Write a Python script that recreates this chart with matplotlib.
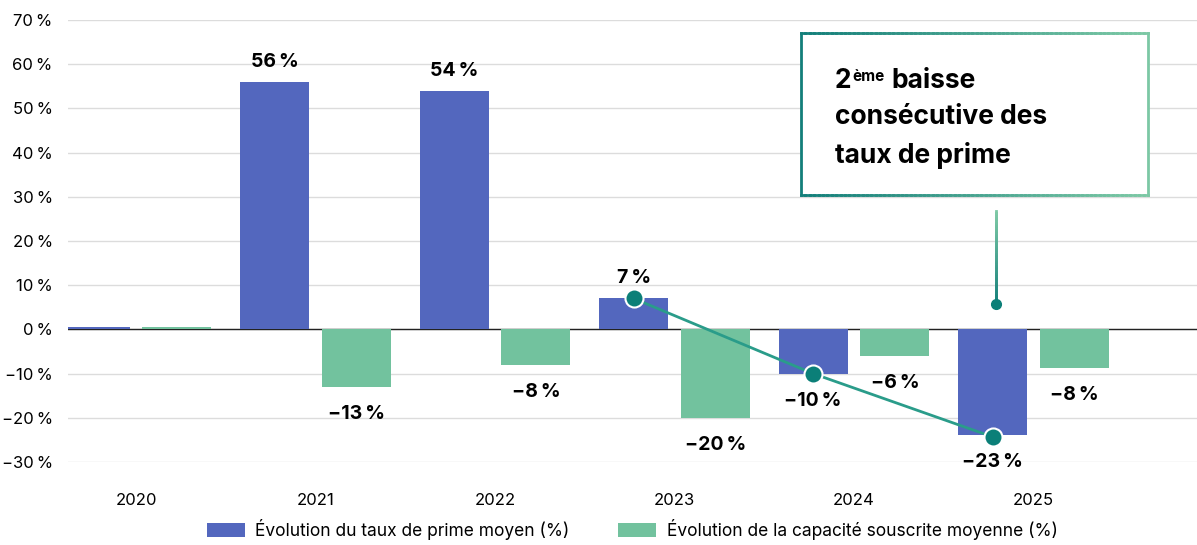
import matplotlib.pyplot as plt
import numpy as np
from matplotlib.collections import LineCollection
from matplotlib.colors import LinearSegmentedColormap

plt.rcParams['font.family'] = ['Inter', 'DejaVu Sans']

# data
years = ["2020", "2021", "2022", "2023", "2024", "2025"]
taux_prime = [0.5, 56, 54, 7, -10, -23.8]
capacite = [0.5, -13, -8, -20, -6, -8.7]
labels_prime = ["", "56\u2009%", "54\u2009%", "7\u2009%", "\u221210\u2009%", "\u221223\u2009%"]
labels_cap = ["", "\u221213\u2009%", "\u22128\u2009%", "\u221220\u2009%", "\u22126\u2009%", "\u22128\u2009%"]
trend_years = [3, 4, 5]          # indices of the years joined by the trend line
yticks = [-30, -20, -10, 0, 10, 20, 30, 40, 50, 60, 70]

BLUE = "#5367BE"
GREEN = "#72C29E"
TEAL = "#0B7F78"
LINE = "#2A9C8A"

fig = plt.figure(figsize=(11.97, 5.45), dpi=100)
ax = fig.add_axes([68 / 1197, 1 - 462 / 545, 1 - 68 / 1197, 442 / 545])

x = np.arange(len(years))
off = 0.228
w = 0.384
ax.bar(x - off, taux_prime, w, color=BLUE, zorder=2, label="Évolution du taux de prime moyen (%)")
ax.bar(x + off, capacite, w, color=GREEN, zorder=2, label="Évolution de la capacité souscrite moyenne (%)")

# data labels
for xi, v, lab in zip(x - off, taux_prime, labels_prime):
    if not lab:
        continue
    if v >= 0:
        ax.annotate(lab, (xi, v), xytext=(0, 8), textcoords="offset points",
                    ha="center", va="bottom", fontsize=14, fontweight="bold")
    else:
        ax.annotate(lab, (xi, v), xytext=(0, -13), textcoords="offset points",
                    ha="center", va="top", fontsize=14, fontweight="bold")
for xi, v, lab in zip(x + off, capacite, labels_cap):
    if not lab:
        continue
    ax.annotate(lab, (xi, v), xytext=(0, -13), textcoords="offset points",
                ha="center", va="top", fontsize=14, fontweight="bold")

# trend line on the premium rate
tx = [x[i] - off for i in trend_years]
ty = [taux_prime[i] for i in trend_years]
ty[-1] = -24.3
ax.plot(tx, ty, color=LINE, lw=2, zorder=4)
ax.plot(tx, ty, "o", ms=13, mfc=TEAL, mec="white", mew=1.5, zorder=5)


def gradient_line(xs, ys, z):
    pts = np.array([xs, ys]).T.reshape(-1, 1, 2)
    segs = np.concatenate([pts[:-1], pts[1:]], axis=1)
    lc = LineCollection(segs, cmap=cmap, lw=2, zorder=z, capstyle="projecting")
    lc.set_array(np.linspace(0, 1, len(segs)))
    ax.add_collection(lc)


# callout box with gradient border
cmap = LinearSegmentedColormap.from_list("g", ["#137F7A", "#7CC8A5"])
bx0, bx1, by0, by1 = 3.705, 5.638, 30.3, 67.0
xs = np.linspace(bx0, bx1, 80)
ax.fill_between([bx0, bx1], by0, by1, color="white", zorder=5.5)
for yy in (by0, by1):
    gradient_line(xs, np.full_like(xs, yy), 6)
ax.plot([bx0, bx0], [by0, by1], color=cmap(0.0), lw=2, zorder=6)
ax.plot([bx1, bx1], [by0, by1], color=cmap(1.0), lw=2, zorder=6)

tx0 = 3.894
t1 = ax.text(tx0, 56.3, "2", fontsize=19, fontweight="bold", va="center", ha="left", zorder=7)
t2 = ax.annotate("ème", xy=(1, 1), xycoords=t1, xytext=(0.5, -1), textcoords="offset points",
                 fontsize=11, fontweight="bold", va="top", ha="left", zorder=7)
ax.annotate("baisse", xy=(1, 0), xycoords=(t2, t1), xytext=(5, 0), textcoords="offset points",
            fontsize=19, fontweight="bold", va="bottom", ha="left", zorder=7)
ax.text(tx0, 48.0, "consécutive des", fontsize=19, fontweight="bold", va="center", ha="left", zorder=7)
ax.text(tx0, 39.4, "taux de prime", fontsize=19, fontweight="bold", va="center", ha="left", zorder=7)

# pointer from box down to 2025
px = x[5] - off + 0.02
vy = np.linspace(5.7, 26.9, 40)
gradient_line(np.full_like(vy, px), vy, 4)
ax.plot([px], [5.7], "o", ms=7, color=TEAL, zorder=5)

# axes styling
ax.set_xlim(-0.379, 5.911)
ax.set_ylim(-30, 70)
ax.set_yticks(yticks)
ax.set_yticklabels([("\u2212" if t < 0 else "") + f"{abs(t)}\u2009%" for t in yticks], fontsize=12)
ax.set_xticks(x)
ax.set_xticklabels(years, fontsize=12)
ax.tick_params(axis="y", length=0, pad=11)
ax.tick_params(axis="x", length=0, pad=22)
ax.grid(axis="y", color="#dcdcdc", lw=1, zorder=0)
ax.axhline(0, color="#222222", lw=1, zorder=1.5)
for s in ax.spines.values():
    s.set_visible(False)
ax.set_axisbelow(True)

fig.legend(loc="lower center", bbox_to_anchor=(0.528, -0.02), ncol=2, frameon=False,
           fontsize=12.5, handlelength=2.2, handleheight=0.9, handletextpad=0.6,
           columnspacing=2.8)

fig.savefig("out.png", dpi=100)
